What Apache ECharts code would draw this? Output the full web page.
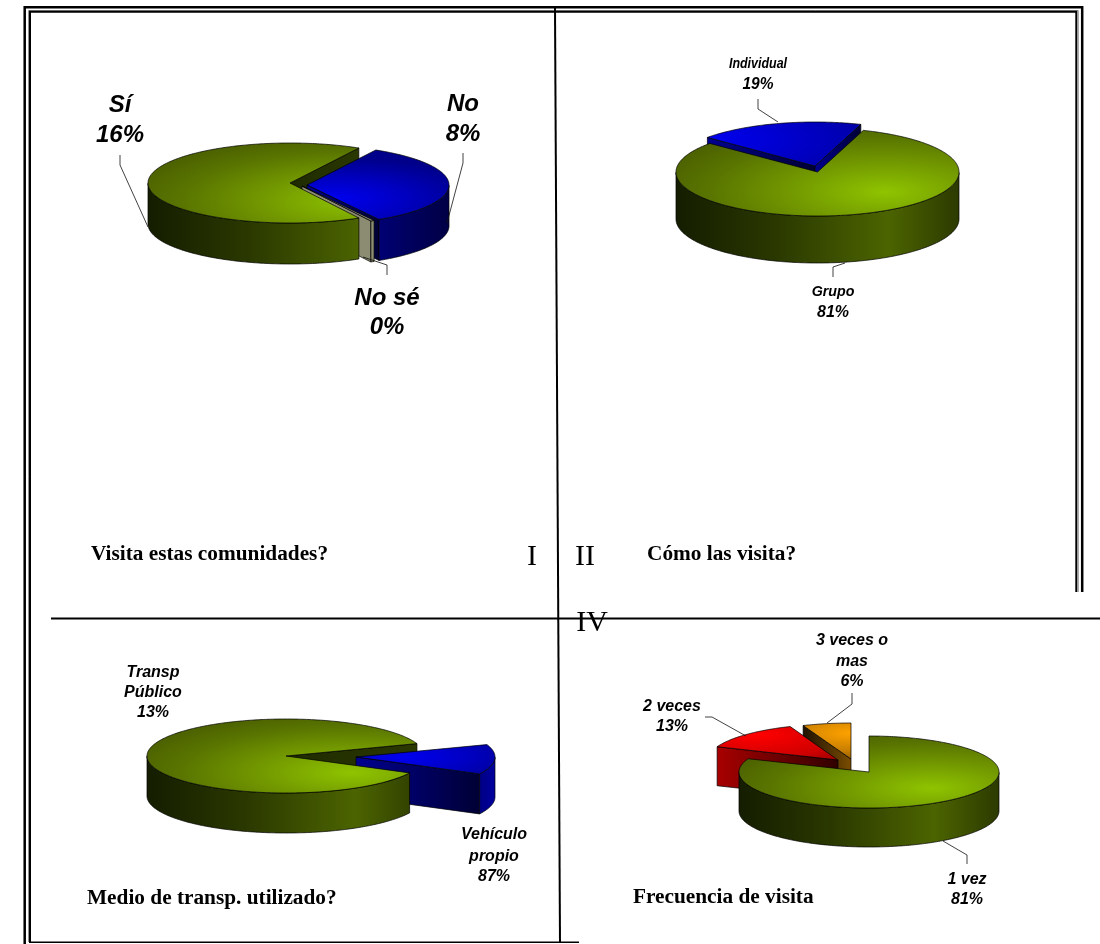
<!DOCTYPE html>
<html><head><meta charset="utf-8">
<style>html,body{margin:0;padding:0;background:#fff}#c{width:1100px;height:944px}</style>
<script src="https://cdn.jsdelivr.net/npm/echarts@6/dist/echarts.min.js"></script>
</head><body><div id="c"></div>
<script>
// ---- data (clockwise slice order) ----
const visitaCategories = ['No', 'No sé', 'Sí'];
const visitaValues = [8.1, 0.1, 16];
const comoCategories = ['Individual', 'Grupo'];
const comoValues = [19, 81];
const medioCategories = ['Vehículo propio', 'Transp Público'];
const medioValues = [13, 87];
const frecuenciaCategories = ['1 vez', '2 veces', '3 veces o mas'];
const frecuenciaValues = [81, 13, 6];
const chartTitles = ['Visita estas comunidades?', 'Cómo las visita?', 'Medio de transp. utilizado?', 'Frecuencia de visita'];
const quadrantMarks = ['I', 'II', 'IV'];

// ---- style ----
const green = {
  top: [[0,'#8fc400'],[0.4,'#729800'],[0.72,'#5a7600'],[1,'#4a5e00']], grad: [0.48,0.45,1.7],
  wall: [[0,'#141d00'],[0.35,'#2a3800'],[0.75,'#4c6400'],[1,'#2c3a00']],
  radial: [[0,'#1f2b00'],[1,'#2a3800']]
};
const blue = (grad, wall) => ({
  top: [[0,'#0000f0'],[0.5,'#0000c0'],[1,'#00008a']], grad,
  wall: wall || [[0,'#0000c0'],[0.55,'#0000a0'],[0.85,'#000060'],[1,'#000045']],
  radial: [[0,'#000090'],[1,'#000035']]
});
const gray = { top: [[0,'#8c8c72'],[1,'#8c8c72']], grad:[0,0,1], wall:[[0,'#8c8c72'],[1,'#8c8c72']], radial:[[0,'#8c8c72'],[1,'#8c8c72']] };
const red = { top: [[0,'#ff0000'],[0.6,'#d00000'],[1,'#880000']], grad:[-0.62,-0.7,1.05],
  wall:[[0,'#a80000'],[1,'#400000']], radial:[[0,'#a80000'],[1,'#300000']] };
const orange = { top: [[0,'#ffa200'],[0.6,'#c87e00'],[1,'#8a5600']], grad:[0.0,-0.72,0.8],
  wall:[[0,'#2a1800'],[1,'#8a5a00']], radial:[[0,'#1f1200'],[1,'#7a4c00']] };

const pies = [
  { values: visitaValues, names: visitaCategories, cx:290, cy:183, rx:142, ry:40, depth:41, start:61,
    offsets:[[17,2],[12,3],[0,0]], order:[0,1,2], looks:[blue([0.18,0.35,1.05],null),gray,green] },
  { values: comoValues, names: comoCategories, cx:817.5, cy:172, rx:141.5, ry:44, depth:47, start:139.5,
    offsets:[[-2.5,-6],[0,0]], order:[0,1], looks:[blue([-0.75,-0.6,1.55],null),green] },
  { values: medioValues, names: medioCategories, cx:286, cy:756, rx:139, ry:37, depth:40, start:19.6,
    offsets:[[70,1],[0,0]], order:[0,1],
    looks:[blue([0.35,0.0,0.95],[[0,'#000050'],[0.85,'#000050'],[1,'#0000a0']]),green] },
  { values: frecuenciaValues, names: frecuenciaCategories, cx:869, cy:772, rx:130, ry:36, depth:39, start:90,
    offsets:[[0,0],[-31,-12],[-18,-13]], order:[2,1,0], looks:[green,red,orange] }
];

const D = Math.PI/180;
function sliceAngles(p){
  const total = p.values.reduce((a,b)=>a+b,0);
  let a = p.start; 
  return p.values.map(v=>{ const s=[a,a-v/total*360]; a=s[1]; return s; });
}
const lin = (x0,y0,x1,y1,stops)=>({type:'linear',x:x0,y:y0,x2:x1,y2:y1,global:true,
  colorStops:stops.map(s=>({offset:s[0],color:s[1]}))});
const edge = {stroke:'#000',lineWidth:0.7,lineJoin:'round'};

function radialWall(p,cx,cy,t,look,z){
  const ox=cx+p.rx*Math.cos(t*D), oy=cy-p.ry*Math.sin(t*D);
  const x0=Math.min(cx,ox), x1=Math.max(cx,ox);
  return {type:'polygon',silent:true,z2:z,shape:{points:[[cx,cy],[ox,oy],[ox,oy+p.depth],[cx,cy+p.depth]]},
    style:Object.assign({fill:lin(x0,0,x1+0.01,0,look.radial)},edge)};
}
function frontWalls(p,i,z){
  const ang=sliceAngles(p)[i], o=p.offsets[i], cx=p.cx+o[0], cy=p.cy+o[1], out=[];
  if(Math.cos(ang[0]*D)<-1e-6) out.push(radialWall(p,cx,cy,ang[0],p.looks[i],z));
  if(Math.cos(ang[1]*D)>1e-6) out.push(radialWall(p,cx,cy,ang[1],p.looks[i],z));
  return out;
}
function sliceParts(p,i,base,skipRadial){
  const ang=sliceAngles(p)[i], o=p.offsets[i], cx=p.cx+o[0], cy=p.cy+o[1], look=p.looks[i];
  const parts = skipRadial ? [] : frontWalls(p,i,base);
  // outer wall, only the front half of the rim
  const ts=[]; const n=Math.max(2,Math.ceil((ang[0]-ang[1])));
  for(let k=0;k<=n;k++) ts.push(ang[0]+(ang[1]-ang[0])*k/n);
  let run=[];
  const flush=()=>{
    if(run.length>1){
      const top=run.map(t=>[cx+p.rx*Math.cos(t*D),cy-p.ry*Math.sin(t*D)]);
      const bot=top.slice().reverse().map(q=>[q[0],q[1]+p.depth]);
      parts.push({type:'polygon',silent:true,z2:base+1,shape:{points:top.concat(bot)},
        style:Object.assign({fill:lin(cx-p.rx,0,cx+p.rx,0,look.wall)},edge)});
    }
    run=[];
  };
  ts.forEach(t=>{ if(Math.sin(t*D)<=0.0001) run.push(t); else flush(); });
  flush();
  // top face: a circular sector flattened by scaleY so that its radial gradient is flattened too
  const pts=[[0,0]]; ts.forEach(t=>pts.push([p.rx*Math.cos(t*D),-p.rx*Math.sin(t*D)]));
  parts.push({type:'polygon',silent:true,z2:base+2,x:cx,y:cy,scaleX:1,scaleY:p.ry/p.rx,shape:{points:pts},
    style:{fill:{type:'radial',x:look.grad[0]*p.rx,y:look.grad[1]*p.rx,r:look.grad[2]*p.rx,global:true,
      colorStops:look.top.map(s=>({offset:s[0],color:s[1]}))}}});
  const rim=pts.map(q=>[cx+q[0],cy+q[1]*p.ry/p.rx]);
  parts.push({type:'polygon',silent:true,z2:base+3,shape:{points:rim},style:Object.assign({fill:'none'},edge)});
  return parts;
}

const series = pies.map(p=>({
  type:'custom', coordinateSystem:'none', animation:false, silent:true,
  data:p.order.map(i=>({name:p.names[i],value:p.values[i]})),
  renderItem:(params)=>{
    const idx=params.dataIndex, i=p.order[idx];
    const main=p.order[p.order.length-1];
    let children=[];
    if(idx===0 && i!==main) children=children.concat(frontWalls(p,main,0));
    children=children.concat(sliceParts(p,i,10*(idx+1),i===main));
    return {type:'group',children};
  }
}));

// ---- texts and leader lines ----
const sansLabels = [
  {lines:['Sí','16%'],x:120,ys:[105,135],fonts:[24,24]},
  {lines:['No','8%'],x:463,ys:[104,134],fonts:[24,24]},
  {lines:['No sé','0%'],x:387,ys:[298,327],fonts:[24,24]},
  {lines:['Individual','19%'],x:758,ys:[64,85],fonts:[15,16],squeeze:[0.83,0.97]},
  {lines:['Grupo','81%'],x:833,ys:[292,313],fonts:[15,16],squeeze:[0.95,1]},
  {lines:['Transp','Público','13%'],x:153,ys:[673,693,713],fonts:[16,16,16]},
  {lines:['Vehículo','propio','87%'],x:494,ys:[835,857,877],fonts:[16,16,16]},
  {lines:['3 veces o','mas','6%'],x:852,ys:[641,662,682],fonts:[16,16,16]},
  {lines:['2 veces','13%'],x:672,ys:[707,727],fonts:[16,16]},
  {lines:['1 vez','81%'],x:967,ys:[880,900],fonts:[16,16]}
];
const leaders = [
  [[120,155],[120,165],[148,227]], [[463,153],[463,163],[447,223]], [[387,275],[387,265],[363,257]],
  [[758,99],[758,109],[778,122]], [[833,277],[833,267],[845,263]],
  [[967,864],[967,855],[943,841]], [[705,717],[712,717],[746,736]], [[852,693],[852,704],[827,723]]
];
const rules = [
  {p:[[28.6,942],[28.6,10.5],[1078.2,10.5],[1078.2,592]],w:1,c:'#888'},
  {p:[[24.7,944],[24.7,7.2],[1082.2,7.2],[1082.2,592]],w:2.5,c:'#000'},
  {p:[[30,942],[30,11.7],[1076.3,11.7],[1076.3,592]],w:2,c:'#000'},
  {p:[[29,942.3],[579,942.3]],w:1.5,c:'#000'},
  {p:[[555,8],[560,942]],w:2,c:'#000'},
  {p:[[51,618.5],[1100,618.5]],w:2,c:'#000'}
];
const markPos = [[532,557],[585,557],[592,623]];
const titlePos = [[91,544],[647,544],[87,888],[633,887]];

const graphicEls = [];
rules.forEach(r=>graphicEls.push({type:'polyline',silent:true,shape:{points:r.p},style:{stroke:r.c,lineWidth:r.w,fill:'none'}}));
leaders.forEach(pts=>graphicEls.push({type:'polyline',silent:true,z:5,shape:{points:pts},style:{stroke:'#111',lineWidth:0.8,fill:'none'}}));
sansLabels.forEach(l=>l.lines.forEach((t,i)=>graphicEls.push({type:'text',silent:true,z:6,x:l.x,y:l.ys[i],
  scaleX:l.squeeze?l.squeeze[i]:1,
  style:{text:t,textAlign:'center',textVerticalAlign:'middle',fill:'#000',
    font:'italic bold '+l.fonts[i]+'px "Liberation Sans"'}})));
quadrantMarks.forEach((t,i)=>graphicEls.push({type:'text',silent:true,z:6,x:markPos[i][0],y:markPos[i][1],
  style:{text:t,textAlign:'center',textVerticalAlign:'middle',fill:'#000',font:'30px "Liberation Serif"'}}));

const chart = echarts.init(document.getElementById('c'),null,{renderer:'canvas'});
chart.setOption({
  animation:false, backgroundColor:'#fff',
  title: chartTitles.map((t,i)=>({text:t,left:titlePos[i][0],top:titlePos[i][1],padding:0,
    textStyle:{fontFamily:'"Liberation Serif"',fontWeight:'bold',fontSize:21.3,color:'#000'}})),
  graphic:{elements:graphicEls},
  series
});
</script></body></html>
